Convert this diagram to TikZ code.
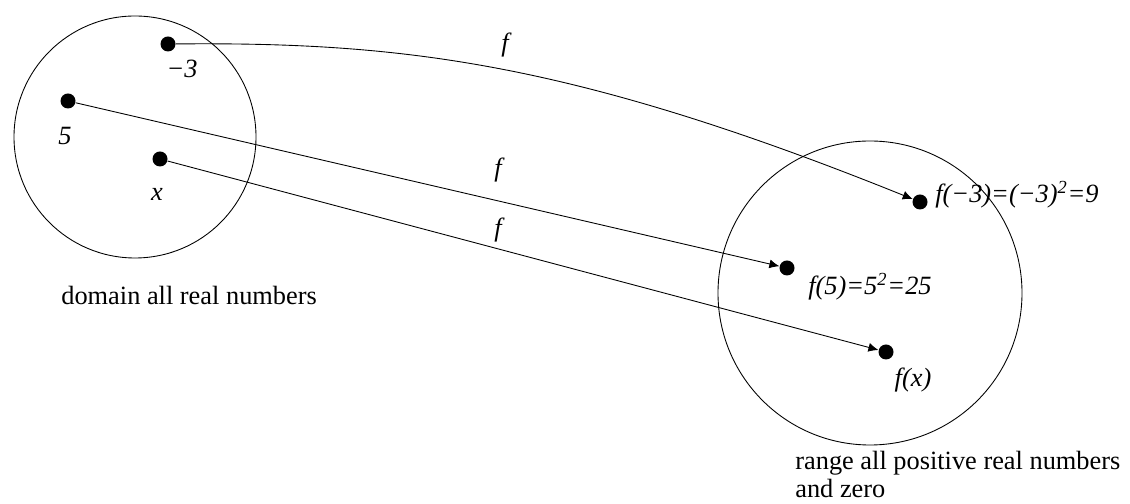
\documentclass[tikz,border=0pt]{standalone}
\usepackage{fontspec}
\setmainfont{Liberation Serif}
\usepackage{tikz}
\usetikzlibrary{arrows.meta, positioning}
\tikzset{
    dot/.style={circle, fill=black, inner sep=0pt, minimum size=0.30cm},
    mapline/.style={draw, -{Latex[length=2mm, width=1.8mm]}, line width=0.5pt},
    setline/.style={draw, line width=0.5pt},
    lbl/.style={inner sep=0pt, font=\fontsize{15}{16}\selectfont\itshape},
    caption/.style={inner sep=0pt, align=left, font=\fontsize{15}{16}\selectfont}
}

\begin{document}
\begin{tikzpicture}
    \useasboundingbox (0,0) rectangle (22.6,10.08);

    % the two sets
    \draw[setline] (2.70,7.34) circle (2.42);
    \draw[setline] (17.40,4.22) circle (3.04);

    % domain points
    \node[dot] (m3) at (3.36,9.20) {};
    \node[dot] (five) at (1.36,8.06) {};
    \node[dot] (x) at (3.20,6.90) {};

    % image points
    \node[dot] (fm3) at (18.40,6.04) {};
    \node[dot] (f5) at (15.74,4.72) {};
    \node[dot] (fx) at (17.72,3.04) {};

    % mappings
    \draw[mapline] (m3) .. controls (8.00,9.24) and (11.40,8.86) .. (fm3);
    \draw[mapline] (five) -- (f5);
    \draw[mapline] (x) -- (fx);

    % Labels
    \node[lbl] (m3lbl) at (3.64,8.70) {−3};
    \node[lbl] (fivelbl) at (1.30,7.36) {5};
    \node[lbl] (xlbl) at (3.14,6.20) {x};
    \node[lbl] (fa) at (10.10,9.18) {f};
    \node[lbl] (fb) at (9.96,6.68) {f};
    \node[lbl] (fc) at (9.96,5.48) {f};
    \node[lbl, anchor=west] (fm3lbl) at (18.70,6.18) {f(−3)=(−3)\textsuperscript{2}=9};
    \node[lbl, anchor=west] (f5lbl) at (16.16,4.34) {f(5)=5\textsuperscript{2}=25};
    \node[lbl] (fxlbl) at (18.26,2.48) {f(x)};
    \node[caption, anchor=west] (domain) at (1.22,4.18) {domain all real numbers};
    \node[caption, anchor=north west] (range) at (15.90,1.06) {range all positive real numbers\\and zero};
\end{tikzpicture}
\end{document}
